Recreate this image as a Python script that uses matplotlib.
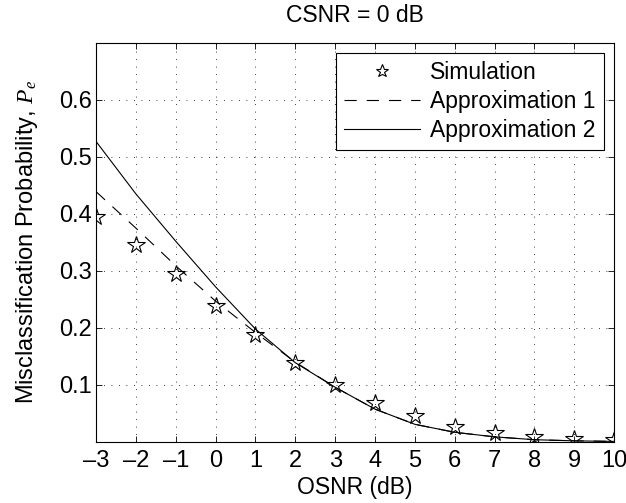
import numpy as np
import matplotlib
matplotlib.use('Agg')
import matplotlib.pyplot as plt

plt.rcParams['font.family'] = ['Liberation Sans', 'DejaVu Sans']
plt.rcParams['mathtext.fontset'] = 'custom'
plt.rcParams['mathtext.it'] = 'Liberation Serif:italic'

# data
osnr = [-3, -2, -1, 0, 1, 2, 3, 4, 5, 6, 7, 8, 9, 10]
sim = [0.394, 0.346, 0.294, 0.239, 0.187, 0.139, 0.0995, 0.0675,
       0.0449, 0.0267, 0.015, 0.0087, 0.005, 0.003]
approx1 = [0.439, 0.375, 0.309, 0.247, 0.192, 0.140, 0.096, 0.0576,
           0.031, 0.017, 0.009, 0.004, 0.002, 0.001]
approx2 = [0.527, 0.435, 0.352, 0.272, 0.198, 0.139, 0.096, 0.0576,
           0.031, 0.017, 0.009, 0.004, 0.002, 0.001]
xticks = list(range(-3, 11))
yticks = [0.1, 0.2, 0.3, 0.4, 0.5, 0.6]

fs = 16.5

fig = plt.figure(figsize=(6.26, 5.03), dpi=100)
ax = fig.add_axes([0.1534, 0.1213, 0.8276, 0.7937])

ax.plot(osnr, sim, linestyle='none', marker='*', markersize=13,
        mfc='none', mec='k', mew=0.8, label='Simulation')
ax.plot(osnr, approx1, color='k', lw=0.8, dashes=(11, 9),
        label='Approximation 1')
ax.plot(osnr, approx2, color='k', lw=0.8, label='Approximation 2')

ax.set_xlim(-3, 10)
ax.set_ylim(0, 0.7)
ax.set_xticks(xticks)
ax.set_yticks(yticks)
ax.set_xticklabels([str(t).replace('-', '\u2013') for t in xticks])
ax.grid(True, color='k', linestyle=(0, (1, 8)), lw=0.6)
ax.tick_params(direction='in', top=True, right=True, labelsize=17,
               length=4, width=0.6)
ax.tick_params(axis='x', pad=6)
ax.tick_params(axis='y', pad=3)
for s in ax.spines.values():
    s.set_linewidth(0.8)

ax.set_title('CSNR = 0 dB', fontsize=fs, pad=15)
ax.set_xlabel('OSNR (dB)', fontsize=fs, labelpad=3)
ax.set_ylabel('Misclassification Probability, $P_e$', fontsize=17,
              labelpad=14)

leg = ax.legend(loc='upper right', fontsize=fs, fancybox=False,
                edgecolor='k', framealpha=1, handlelength=3.3,
                handletextpad=0.45, borderaxespad=0.45, labelspacing=0.25,
                borderpad=0.35, markerscale=0.75)
leg.get_frame().set_linewidth(0.8)

fig.savefig('out.png', dpi=100)
